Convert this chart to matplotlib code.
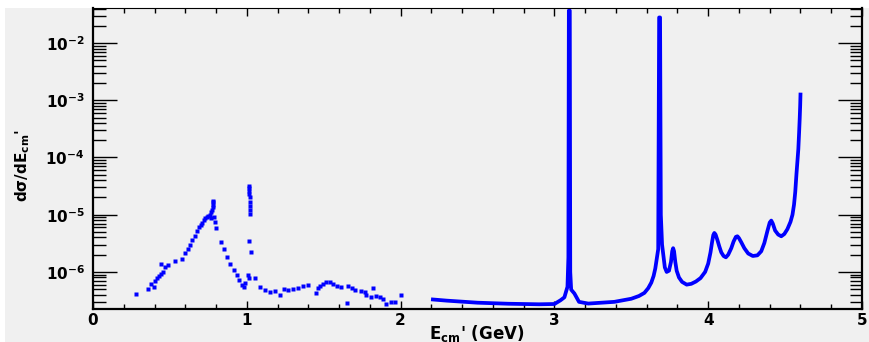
import matplotlib
matplotlib.use("Agg")
import matplotlib.pyplot as plt
from matplotlib.patches import Rectangle
from matplotlib.ticker import MultipleLocator, LogLocator, NullFormatter, FixedLocator

plt.rcParams['font.family'] = ['DejaVu Sans']
plt.rcParams['mathtext.fontset'] = 'custom'
plt.rcParams['mathtext.rm'] = 'DejaVu Sans:bold'
plt.rcParams['mathtext.it'] = 'DejaVu Sans:bold'
plt.rcParams['mathtext.bf'] = 'DejaVu Sans:bold'

# scattered points below 2 GeV (rho / omega / phi region)
low_E = [0.28, 0.36, 0.375, 0.395, 0.405, 0.415, 0.43, 0.44, 0.455, 0.44, 0.47, 0.485,
         0.535, 0.58, 0.60, 0.615, 0.63, 0.645, 0.66, 0.675, 0.69, 0.70, 0.71, 0.72,
         0.73, 0.74, 0.75, 0.76, 0.765, 0.77, 0.775, 0.778, 0.78, 0.781, 0.782,
         0.785, 0.79, 0.80, 0.83, 0.85, 0.87, 0.89, 0.915, 0.935, 0.95, 0.97, 0.985,
         0.99, 1.01, 1.012, 1.015, 1.03,
         1.016, 1.016, 1.017, 1.017, 1.018, 1.018, 1.019, 1.019, 1.02,
         1.055, 1.085, 1.12, 1.15, 1.185, 1.215, 1.24, 1.27, 1.30, 1.33, 1.365, 1.395,
         1.45, 1.46, 1.475, 1.495, 1.515, 1.54, 1.56, 1.585, 1.615, 1.65, 1.66, 1.685,
         1.705, 1.74, 1.77, 1.775, 1.82, 1.81, 1.84, 1.865, 1.885, 1.905, 1.935, 1.965, 2.0]
low_xs = [4.1e-7, 5.0e-7, 6.1e-7, 5.5e-7, 7.0e-7, 7.7e-7, 8.4e-7, 9.3e-7, 1.0e-6, 1.4e-6, 1.2e-6, 1.3e-6,
          1.55e-6, 1.7e-6, 2.1e-6, 2.5e-6, 3.0e-6, 3.6e-6, 4.3e-6, 5.1e-6, 6.0e-6, 6.6e-6, 7.3e-6, 8.0e-6,
          8.6e-6, 9.2e-6, 9.6e-6, 1.0e-5, 8.8e-6, 1.1e-5, 1.2e-5, 1.35e-5, 1.5e-5, 1.65e-5, 1.75e-5,
          9.0e-6, 7.5e-6, 5.9e-6, 3.4e-6, 2.5e-6, 1.85e-6, 1.4e-6, 1.1e-6, 9.0e-7, 7.2e-7, 6.0e-7, 5.5e-7,
          6.3e-7, 9.0e-7, 7.9e-7, 3.5e-6, 2.2e-6,
          3.2e-5, 2.9e-5, 2.6e-5, 2.3e-5, 2.0e-5, 1.7e-5, 1.4e-5, 1.2e-5, 1.05e-5,
          7.7e-7, 5.5e-7, 4.8e-7, 4.5e-7, 4.7e-7, 4.0e-7, 5.0e-7, 4.8e-7, 5.0e-7, 5.3e-7, 5.6e-7, 5.8e-7,
          4.3e-7, 5.2e-7, 5.7e-7, 6.2e-7, 6.6e-7, 6.7e-7, 6.2e-7, 5.6e-7, 5.4e-7, 2.9e-7, 5.6e-7, 5.3e-7,
          4.9e-7, 4.6e-7, 4.4e-7, 3.9e-7, 5.2e-7, 3.6e-7, 3.8e-7, 3.6e-7, 3.4e-7, 2.7e-7, 3.0e-7, 3.0e-7, 3.9e-7]

# dense spectrum above 2.2 GeV (J/psi, psi(2S), psi(3770), psi(4040/4160/4415))
high_E = [2.21, 2.3, 2.5, 2.7, 2.9, 3.0, 3.04, 3.065, 3.085, 3.091, 3.094, 3.100, 3.103, 3.109,
          3.13, 3.16, 3.22, 3.39, 3.5, 3.55, 3.585, 3.61, 3.63, 3.645, 3.656, 3.675, 3.681, 3.687,
          3.692, 3.700, 3.708, 3.718, 3.73, 3.745, 3.758, 3.766, 3.772, 3.778, 3.786, 3.795,
          3.81, 3.83, 3.86, 3.89, 3.92, 3.95, 3.98, 4.00, 4.015, 4.025, 4.033, 4.04, 4.048,
          4.06, 4.072, 4.085, 4.10, 4.115, 4.13, 4.15, 4.165, 4.18, 4.19, 4.20, 4.215, 4.235,
          4.26, 4.29, 4.32, 4.345, 4.365, 4.385, 4.40, 4.41, 4.42, 4.435, 4.455, 4.475, 4.495,
          4.515, 4.535, 4.548, 4.558, 4.566, 4.574, 4.58, 4.586, 4.591, 4.595, 4.598, 4.600]
high_xs = [3.3e-7, 3.15e-7, 2.9e-7, 2.78e-7, 2.72e-7, 2.75e-7, 3.2e-7, 3.6e-7, 5.5e-7, 1.8e-6, 3.7e-2, 3.7e-2, 1.0e-6, 4.9e-7,
           4.2e-7, 3.0e-7, 2.8e-7, 3.0e-7, 3.4e-7, 3.8e-7, 4.3e-7, 5.2e-7, 6.5e-7, 8.5e-7, 1.15e-6, 2.5e-6, 2.8e-2, 2.8e-2,
           1.0e-5, 3.0e-6, 2.0e-6, 1.2e-6, 1.0e-6, 1.05e-6, 1.5e-6, 2.3e-6, 2.6e-6, 2.3e-6, 1.5e-6, 1.05e-6,
           8.0e-7, 6.7e-7, 6.0e-7, 6.2e-7, 6.8e-7, 7.8e-7, 1.0e-6, 1.4e-6, 2.2e-6, 3.3e-6, 4.4e-6, 4.8e-6, 4.5e-6,
           3.6e-6, 2.8e-6, 2.2e-6, 1.9e-6, 1.8e-6, 2.0e-6, 2.6e-6, 3.4e-6, 4.1e-6, 4.2e-6, 3.9e-6, 3.3e-6, 2.6e-6,
           2.1e-6, 1.9e-6, 1.95e-6, 2.3e-6, 3.2e-6, 5.2e-6, 7.3e-6, 7.9e-6, 7.0e-6, 5.3e-6, 4.5e-6, 4.2e-6, 4.6e-6,
           5.6e-6, 7.5e-6, 1.0e-5, 1.5e-5, 2.5e-5, 5.2e-5, 8.5e-5, 1.4e-4, 2.7e-4, 4.8e-4, 8.0e-4, 1.26e-3]

x_ticks = [0, 1, 2, 3, 4, 5]
y_ticks = [1e-6, 1e-5, 1e-4, 1e-3, 1e-2]
y_ticklabels = [r'$10^{-6}$', r'$10^{-5}$', r'$10^{-4}$', r'$10^{-3}$', r'$10^{-2}$']

bg = '#f0f0f0'
blue = '#0000ff'

fig = plt.figure(figsize=(8.69, 3.42), dpi=100, facecolor='white')
fig.patches.append(Rectangle((5 / 869, 0), 1, 334 / 342, transform=fig.transFigure,
                             facecolor=bg, edgecolor='none', zorder=-10))
ax = fig.add_axes([93 / 869, 33 / 342, 769 / 869, 301 / 342])
ax.set_facecolor(bg)

ax.plot(low_E, low_xs, 's', color=blue, ms=2.4, mec='none')
ax.plot(high_E, high_xs, '-', color=blue, lw=2.7, solid_joinstyle='round')

ax.set_yscale('log')
ax.set_xlim(0, 5)
ax.set_ylim(2.25e-7, 0.041)

ax.xaxis.set_major_locator(FixedLocator(x_ticks))
ax.xaxis.set_minor_locator(MultipleLocator(0.2))
ax.set_xticklabels([str(t) for t in x_ticks], fontsize=11, fontweight='bold')
ax.yaxis.set_major_locator(FixedLocator(y_ticks))
ax.yaxis.set_minor_locator(LogLocator(base=10, subs=range(2, 10)))
ax.yaxis.set_minor_formatter(NullFormatter())
ax.set_yticklabels(y_ticklabels, fontsize=11)

ax.tick_params(axis='x', which='both', direction='in', top=True, bottom=True, pad=3, width=1)
ax.tick_params(axis='x', which='major', length=6)
ax.tick_params(axis='x', which='minor', length=3.5)
ax.tick_params(axis='y', which='both', direction='in', left=True, right=True, pad=6, width=1)
ax.tick_params(axis='y', which='major', length=17)
ax.tick_params(axis='y', which='minor', length=9)

for side in ['left', 'bottom', 'right']:
    ax.spines[side].set_linewidth(1.6)
ax.spines['top'].set_linewidth(0.8)

fig.text(477 / 869, 9 / 342, r"E$_{\rm cm}$' (GeV)", fontsize=12, fontweight='bold',
         ha='center', va='center')
fig.text(23 / 869, 1 - 165 / 342, r"d$\sigma$/dE$_{\rm cm}$'", fontsize=11, fontweight='bold',
         rotation=90, ha='center', va='center')

fig.savefig('out.png', dpi=100, facecolor=fig.get_facecolor())
